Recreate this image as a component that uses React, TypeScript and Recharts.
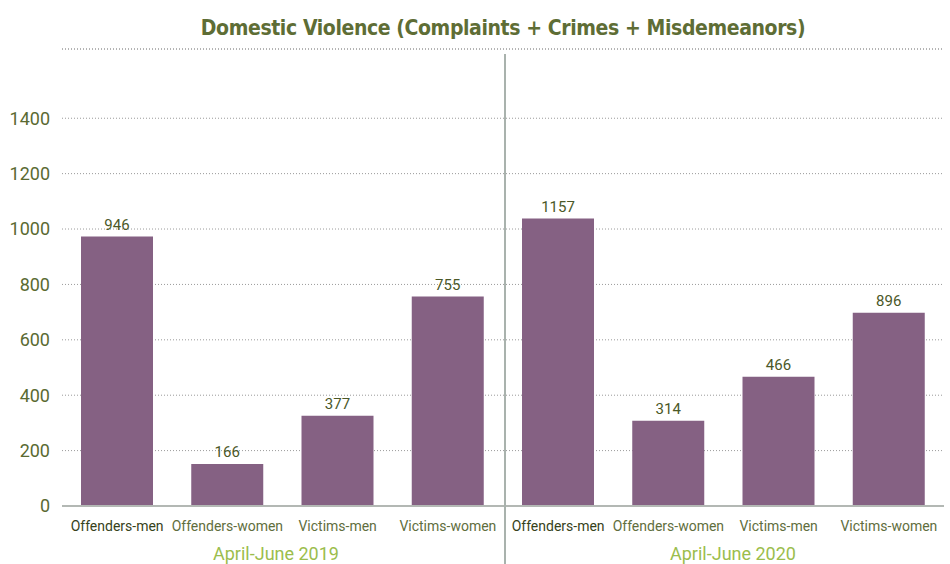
import React from "react";
import { BarChart, Bar, XAxis, YAxis, CartesianGrid, LabelList, ReferenceLine } from "recharts";

if (typeof document !== "undefined") document.body.style.margin = "0";

const categories = [
  "Offenders-men", "Offenders-women", "Victims-men", "Victims-women",
  "Offenders-men", "Offenders-women", "Victims-men", "Victims-women",
];
const barValues = [973, 152, 326, 756, 1038, 308, 467, 698];
const labelTexts = ["946", "166", "377", "755", "1157", "314", "466", "896"];
const yTicks = [0, 200, 400, 600, 800, 1000, 1200, 1400];
const groupLabels = ["April-June 2019", "April-June 2020"];
const title = "Domestic Violence (Complaints + Crimes + Misdemeanors)";

const data = categories.map((c, i) => ({ key: i, name: c, value: barValues[i], label: labelTexts[i] }));

const FONT = "Roboto, 'DejaVu Sans', sans-serif";

const XTick = (props: any) => {
  const { x, y, payload } = props;
  const idx = payload.value as number;
  const first = idx % 4 === 0;
  return (
    <text x={x} y={y} dy={17} textAnchor="middle" fontFamily={FONT} fontSize={14}
      fill={first ? "#36421a" : "#5f6e3d"}>
      {categories[idx]}
    </text>
  );
};

const ValueLabel = (props: any) => {
  const { x, y, width, index } = props;
  return (
    <text x={x + width / 2} y={y - 7} textAnchor="middle" fontFamily={FONT} fontSize={15} fill="#4b5828">
      {labelTexts[index]}
    </text>
  );
};

export default function App() {
  return (
    <div style={{ position: "relative", width: 950, height: 564, background: "#fff", overflow: "hidden" }}>
      <div style={{ position: "absolute", left: 0, top: 16, width: 1006, textAlign: "center", fontFamily: "'DejaVu Sans Condensed', 'DejaVu Sans', sans-serif", fontWeight: 700, fontSize: 21, color: "#5e6d35", letterSpacing: -0.4 }}>
        {title}
      </div>
      <BarChart width={950} height={564} data={data} margin={{ top: 49, right: 6, bottom: 0, left: 0 }} barCategoryGap={19}>
        <CartesianGrid vertical={false} stroke="#9a9a9a" strokeDasharray="1 2" />
        <YAxis domain={[0, 1650]} ticks={yTicks} axisLine={false} tickLine={false} tickSize={0} tickMargin={12} width={62}
          tick={{ fontFamily: FONT, fontSize: 18, fill: "#5a6a32" }} interval={0} />
        <XAxis dataKey="key" type="category" height={58} axisLine={{ stroke: "#b3b8b4", strokeWidth: 2 }} tickLine={false} tick={<XTick />} interval={0} />
        <ReferenceLine y={1650} stroke="#9a9a9a" strokeDasharray="1 2" />
        <Bar dataKey="value" fill="#856183" isAnimationActive={false}>
          <LabelList dataKey="label" content={<ValueLabel />} />
        </Bar>
      </BarChart>
      <div style={{ position: "absolute", left: 504, top: 54, width: 2, height: 520, background: "#a9b2ad" }} />
      <div style={{ position: "absolute", left: 176, top: 543, width: 200, textAlign: "center", fontFamily: FONT, fontSize: 18, color: "#9bbd4c" }}>{groupLabels[0]}</div>
      <div style={{ position: "absolute", left: 633, top: 543, width: 200, textAlign: "center", fontFamily: FONT, fontSize: 18, color: "#9bbd4c" }}>{groupLabels[1]}</div>
    </div>
  );
}
